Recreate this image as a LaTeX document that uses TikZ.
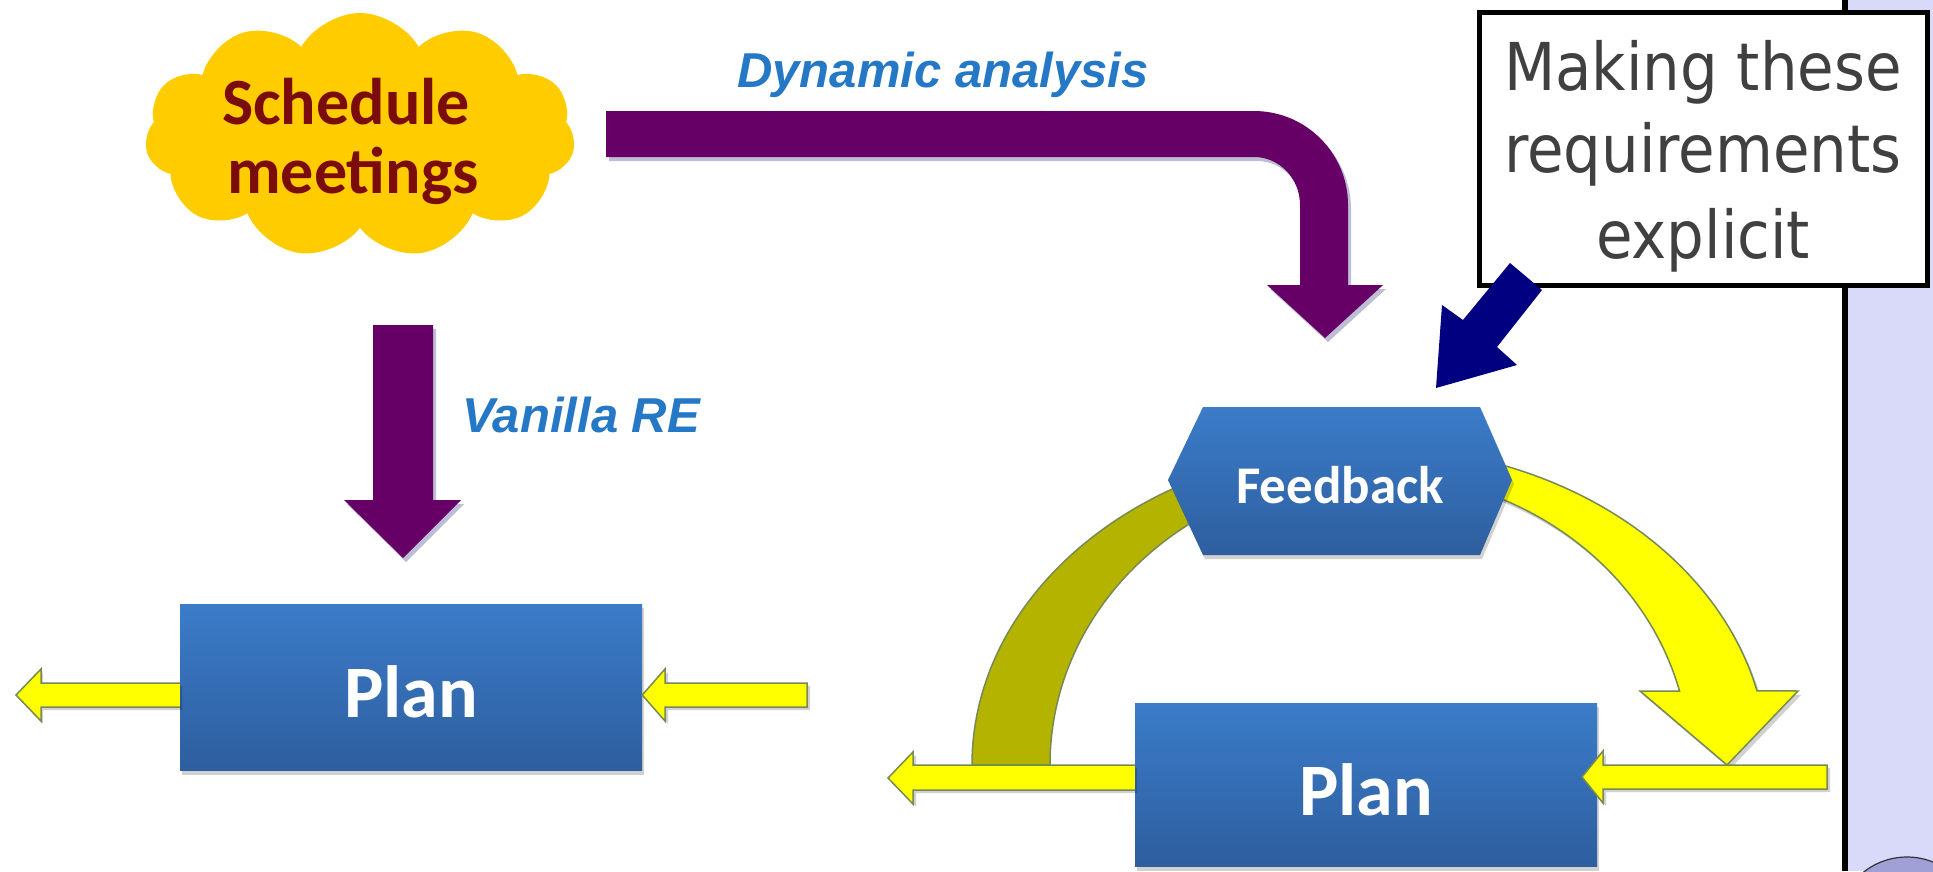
\documentclass[tikz,border=0pt]{standalone}
\usepackage{fontspec}
\usetikzlibrary{shapes.symbols}
\newfontfamily\calib{Carlito}
\newfontfamily\arialf{Liberation Sans}
\newfontfamily\callfont[FakeStretch=0.9]{DejaVu Sans}
\definecolor{purp}{RGB}{102,0,102}
\definecolor{gold}{RGB}{255,204,0}
\definecolor{maroonc}{RGB}{122,12,12}
\definecolor{labblue}{RGB}{36,120,198}
\definecolor{boxtop}{RGB}{59,124,201}
\definecolor{boxbot}{RGB}{46,94,158}
\definecolor{yel}{RGB}{255,255,0}
\definecolor{yedge}{RGB}{118,138,82}
\definecolor{olivec}{RGB}{179,179,0}
\definecolor{navyc}{RGB}{0,0,128}
\definecolor{callgray}{RGB}{64,64,64}
\definecolor{lav}{RGB}{217,217,250}
\definecolor{circfill}{RGB}{160,160,214}
\definecolor{shadowc}{RGB}{110,110,160}
\begin{document}
\begin{tikzpicture}[x=1pt,y=-1pt,
  shad/.style={fill=shadowc, opacity=0.45},
  gshad/.style={fill=black, opacity=0.18},
  ybody/.style={fill=yel, draw=yedge, line width=1.5pt, line join=miter},
  bluebox/.style={rectangle, top color=boxtop, bottom color=boxbot, inner sep=0pt},
  plantext/.style={font=\calib\bfseries\fontsize{74}{88}\selectfont, text=white, anchor=base},
  cloudtext/.style={font=\calib\bfseries\fontsize{66}{78}\selectfont, text=maroonc, anchor=base},
  labeltext/.style={font=\arialf\bfseries\itshape\fontsize{49}{58}\selectfont, text=labblue, anchor=base},
  calltext/.style={font=\callfont\fontsize{66}{84}\selectfont, text=callgray, anchor=base}]
\useasboundingbox (0,0) rectangle (1933,871);
\clip (0,0) rectangle (1933,871);
\fill[white] (0,0) rectangle (1933,871);

% right side panel
\fill[lav] (1848,0) rectangle (1933,871);
\fill[black] (1842,0) rectangle (1848,871);
\node[circle, fill=circfill, draw=black!80, line width=1.2pt, minimum size=140pt, inner sep=0pt] (dot) at (1907,927) {};

% cloud
\node[cloud, cloud puffs=11, cloud puff arc=120, aspect=1.74, fill=gold, minimum width=430pt, minimum height=245pt, inner sep=0pt] (sched) at (360,135.5) {};
\node[cloudtext] (sched1) at (346,124) {Schedule};
\node[cloudtext] (sched2) at (353,193) {meetings};

% labels
\node[labeltext] (dyn) at (943,87) {Dynamic analysis};
\node[labeltext] (van) at (581,432) {Vanilla RE};

% purple bent arrow (Dynamic analysis)
\begin{scope}[shift={(3,4)}]
\fill[shad] (606,111) -- (1254,111) arc[start angle=270, end angle=360, x radius=94, y radius=94]
  -- (1348,285) -- (1383,285) -- (1325,338) -- (1267,285) -- (1300,285) -- (1300,205)
  arc[start angle=0, end angle=-90, x radius=46, y radius=48] -- (606,157) -- cycle;
\end{scope}
\fill[purp] (606,111) -- (1254,111) arc[start angle=270, end angle=360, x radius=94, y radius=94]
  -- (1348,285) -- (1383,285) -- (1325,338) -- (1267,285) -- (1300,285) -- (1300,205)
  arc[start angle=0, end angle=-90, x radius=46, y radius=48] -- (606,157) -- cycle;

% purple vertical arrow (Vanilla RE)
\begin{scope}[shift={(3,4)}]
\fill[shad] (373,325) -- (433,325) -- (433,500) -- (461,500) -- (403,558) -- (344,500) -- (373,500) -- cycle;
\end{scope}
\fill[purp] (373,325) -- (433,325) -- (433,500) -- (461,500) -- (403,558) -- (344,500) -- (373,500) -- cycle;

% left plan
\fill[gshad] (182,608) rectangle (644,775);
\node[bluebox, minimum width=462pt, minimum height=166pt] (plan1) at (411,687) {};
\node[plantext] (plan1t) at (411,717) {Plan};
% left plan arrows
\fill[gshad] (182,686) -- (43,686) -- (43,672) -- (18,698) -- (43,724) -- (43,710) -- (182,710) -- cycle;
\draw[ybody] (plan1.west |- 0,683) -- (41,683) -- (41,669) -- (16,695) -- (41,721) -- (41,707) -- (plan1.west |- 0,707);
\fill[gshad] (810,686) -- (668,686) -- (668,672) -- (645,698) -- (668,724) -- (668,710) -- (810,710) -- cycle;
\draw[ybody] (807,683) -- (665,683) -- (665,669) -- (plan1.east |- 0,695) -- (665,721) -- (665,707) -- (807,707) -- cycle;

% feedback loop arcs
\draw[ybody, fill=olivec] (972,765) arc[start angle=180, end angle=270, x radius=398, y radius=318]
  -- (1370,473) arc[start angle=270, end angle=180, x radius=320, y radius=292] -- cycle;
\fill[gshad] (1373,451) arc[start angle=270, end angle=346.5, x radius=398, y radius=318]
  -- (1801,695) -- (1730,769) -- (1643,695) -- (1682.5,695)
  arc[start angle=345.3, end angle=270, x radius=320, y radius=292] -- cycle;
\draw[ybody] (1370,447) arc[start angle=270, end angle=346.5, x radius=398, y radius=318]
  -- (1798,691) -- (1727,765) -- (1640,691) -- (1679.5,691)
  arc[start angle=345.3, end angle=270, x radius=320, y radius=292] -- cycle;

% right plan
\fill[gshad] (1137,707) rectangle (1599,871);
\node[bluebox, minimum width=462pt, minimum height=163pt] (plan2) at (1366,784.5) {};
\node[plantext] (plan2t) at (1366,815) {Plan};
% right plan arrows
\fill[gshad] (1137,768) -- (916,768) -- (916,755) -- (891,781) -- (916,807) -- (916,793) -- (1137,793) -- cycle;
\draw[ybody] (plan2.west |- 0,765) -- (913,765) -- (913,752) -- (888,778) -- (913,804) -- (913,790) -- (plan2.west |- 0,790);
\fill[gshad] (1830,768) -- (1606,768) -- (1606,754) -- (1585,780) -- (1606,806) -- (1606,792) -- (1830,792) -- cycle;
\draw[ybody] (1827,765) -- (1603,765) -- (1603,751) -- (1582,777) -- (1603,803) -- (1603,789) -- (1827,789) -- cycle;

% feedback hexagon
\fill[gshad] (1170,484) -- (1205,411) -- (1482,411) -- (1514,484) -- (1482,559) -- (1205,559) -- cycle;
\shade[top color=boxtop, bottom color=boxbot] (1168,480) -- (1203,407) -- (1480,407) -- (1512,480) -- (1480,555) -- (1203,555) -- cycle;
\node[font=\calib\bfseries\fontsize{53}{64}\selectfont, text=white, anchor=base] (fb) at (1340,503) {Feedback};

% callout
\node[draw=black, line width=5pt, fill=white, rectangle, minimum width=448pt, minimum height=273pt, inner sep=0pt] (callout) at (1703.5,149) {};
\node[calltext] (mk1) at (1703,90) {Making these};
\node[calltext] (mk2) at (1703,172) {requirements};
\node[calltext] (mk3) at (1703,258) {explicit};
\fill[navyc] (1510,263) -- (1542,290) -- (1497,347) -- (1517,365) -- (1436,388) -- (1442,305) -- (1463,320) -- cycle;
\end{tikzpicture}
\end{document}
